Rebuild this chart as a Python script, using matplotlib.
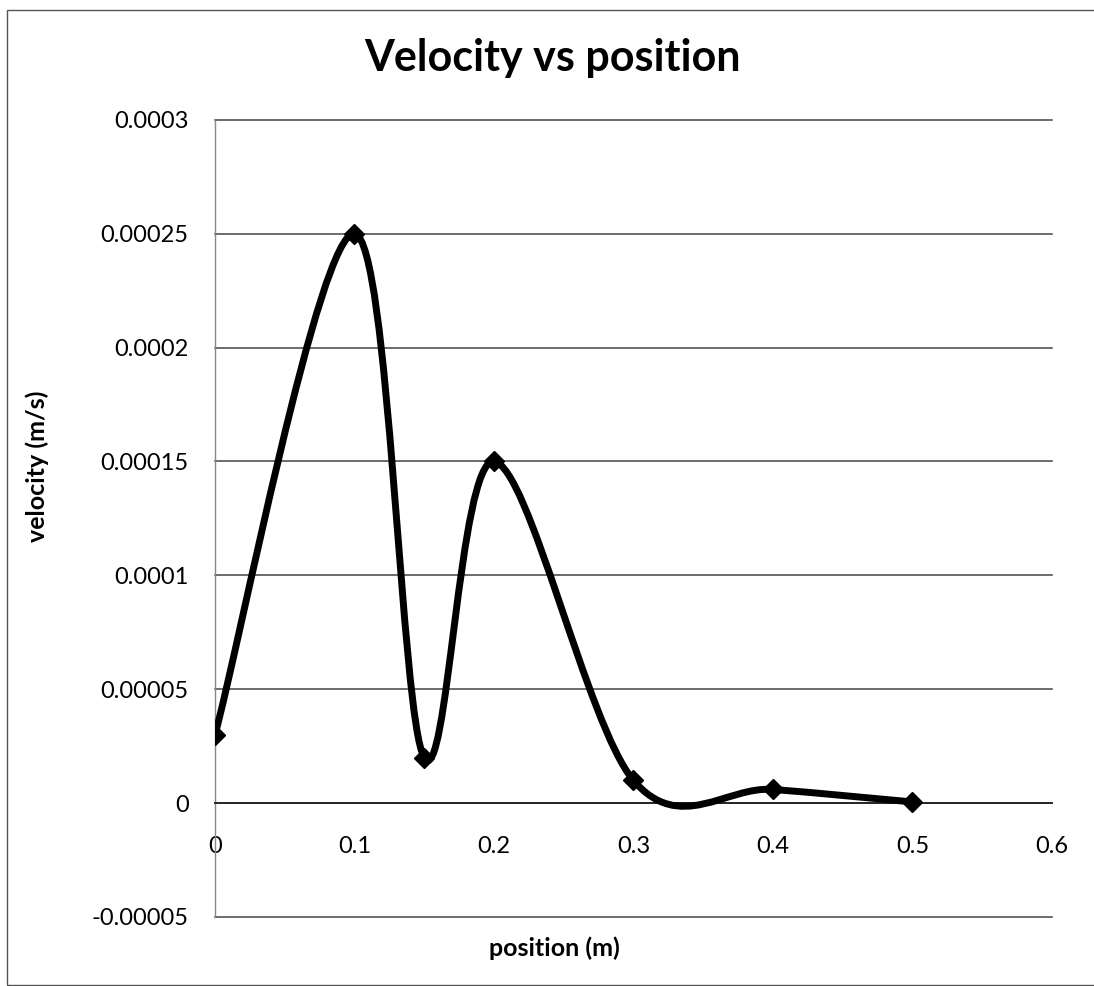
import matplotlib.pyplot as plt
import numpy as np
from matplotlib.path import Path
from matplotlib.patches import PathPatch, Rectangle

# values
position = [0.0, 0.1, 0.15, 0.2, 0.3, 0.4, 0.5]
velocity = [0.00003, 0.00025, 0.00002, 0.00015, 0.00001, 0.000006, 0.0000005]
x_ticks = [0, 0.1, 0.2, 0.3, 0.4, 0.5, 0.6]
y_ticks = [-0.00005, 0, 0.00005, 0.0001, 0.00015, 0.0002, 0.00025, 0.0003]
y_tick_labels = ["-0.00005", "0", "0.00005", "0.0001", "0.00015", "0.0002", "0.00025", "0.0003"]
x_tick_labels = ["0", "0.1", "0.2", "0.3", "0.4", "0.5", "0.6"]

plt.rcParams["font.family"] = ["Lato", "DejaVu Sans"]


def smooth_path(xs, ys):
    # spreadsheet-style smoothed line: cubic Bezier through each point,
    # control points from the neighbouring points (Catmull-Rom, 1/6)
    pts = np.column_stack([xs, ys])
    n = len(pts)
    verts = [pts[0]]
    codes = [Path.MOVETO]
    for i in range(n - 1):
        p_prev = pts[max(i - 1, 0)]
        p0, p1 = pts[i], pts[i + 1]
        p_next = pts[min(i + 2, n - 1)]
        c1 = p0 + (p1 - p_prev) / 6
        c2 = p1 - (p_next - p0) / 6
        verts += [c1, c2, p1]
        codes += [Path.CURVE4] * 3
    return Path(verts, codes)


fig = plt.figure(figsize=(10.94, 9.86), dpi=100)
ax = fig.add_axes([0.1965, 0.070, 0.765, 0.8085])

ax.add_patch(PathPatch(smooth_path(position, velocity), facecolor="none",
                       edgecolor="black", linewidth=5, capstyle="round",
                       joinstyle="round", zorder=3))
ax.plot(position, velocity, linestyle="none", marker="D", markersize=10.5,
        color="black", zorder=4)

ax.set_xlim(0, 0.6)
ax.set_ylim(-0.00005, 0.0003)
ax.set_xticks(x_ticks, x_tick_labels)
ax.set_yticks(y_ticks, y_tick_labels)
ax.tick_params(axis="x", length=0, pad=24, labelsize=17)
ax.tick_params(axis="y", length=0, pad=19, labelsize=17)

ax.grid(axis="y", color="#444444", linewidth=1.1)
for line in ax.get_ygridlines():
    line.set_clip_on(False)
ax.set_axisbelow(True)
for side in ["top", "right"]:
    ax.spines[side].set_visible(False)
ax.spines["bottom"].set_position(("data", 0))
ax.spines["bottom"].set_color("#222222")
ax.spines["bottom"].set_linewidth(1.3)
ax.spines["left"].set_color("#888888")
ax.spines["left"].set_linewidth(1)

fig.text(0.505, 0.941, "Velocity vs position", ha="center", va="center",
         fontsize=31, fontweight="bold")
fig.text(0.034, 0.527, "velocity (m/s)", ha="center", va="center",
         rotation=90, fontsize=18, fontweight="bold")
fig.text(0.507, 0.038, "position (m)", ha="center", va="center",
         fontsize=18, fontweight="bold")

# chart area border
fig.patches.append(Rectangle((7 / 1094, 1 / 986), 1.0, 975 / 986,
                             transform=fig.transFigure, fill=False,
                             edgecolor="#555555", linewidth=1))

fig.savefig("out.png", dpi=100)
